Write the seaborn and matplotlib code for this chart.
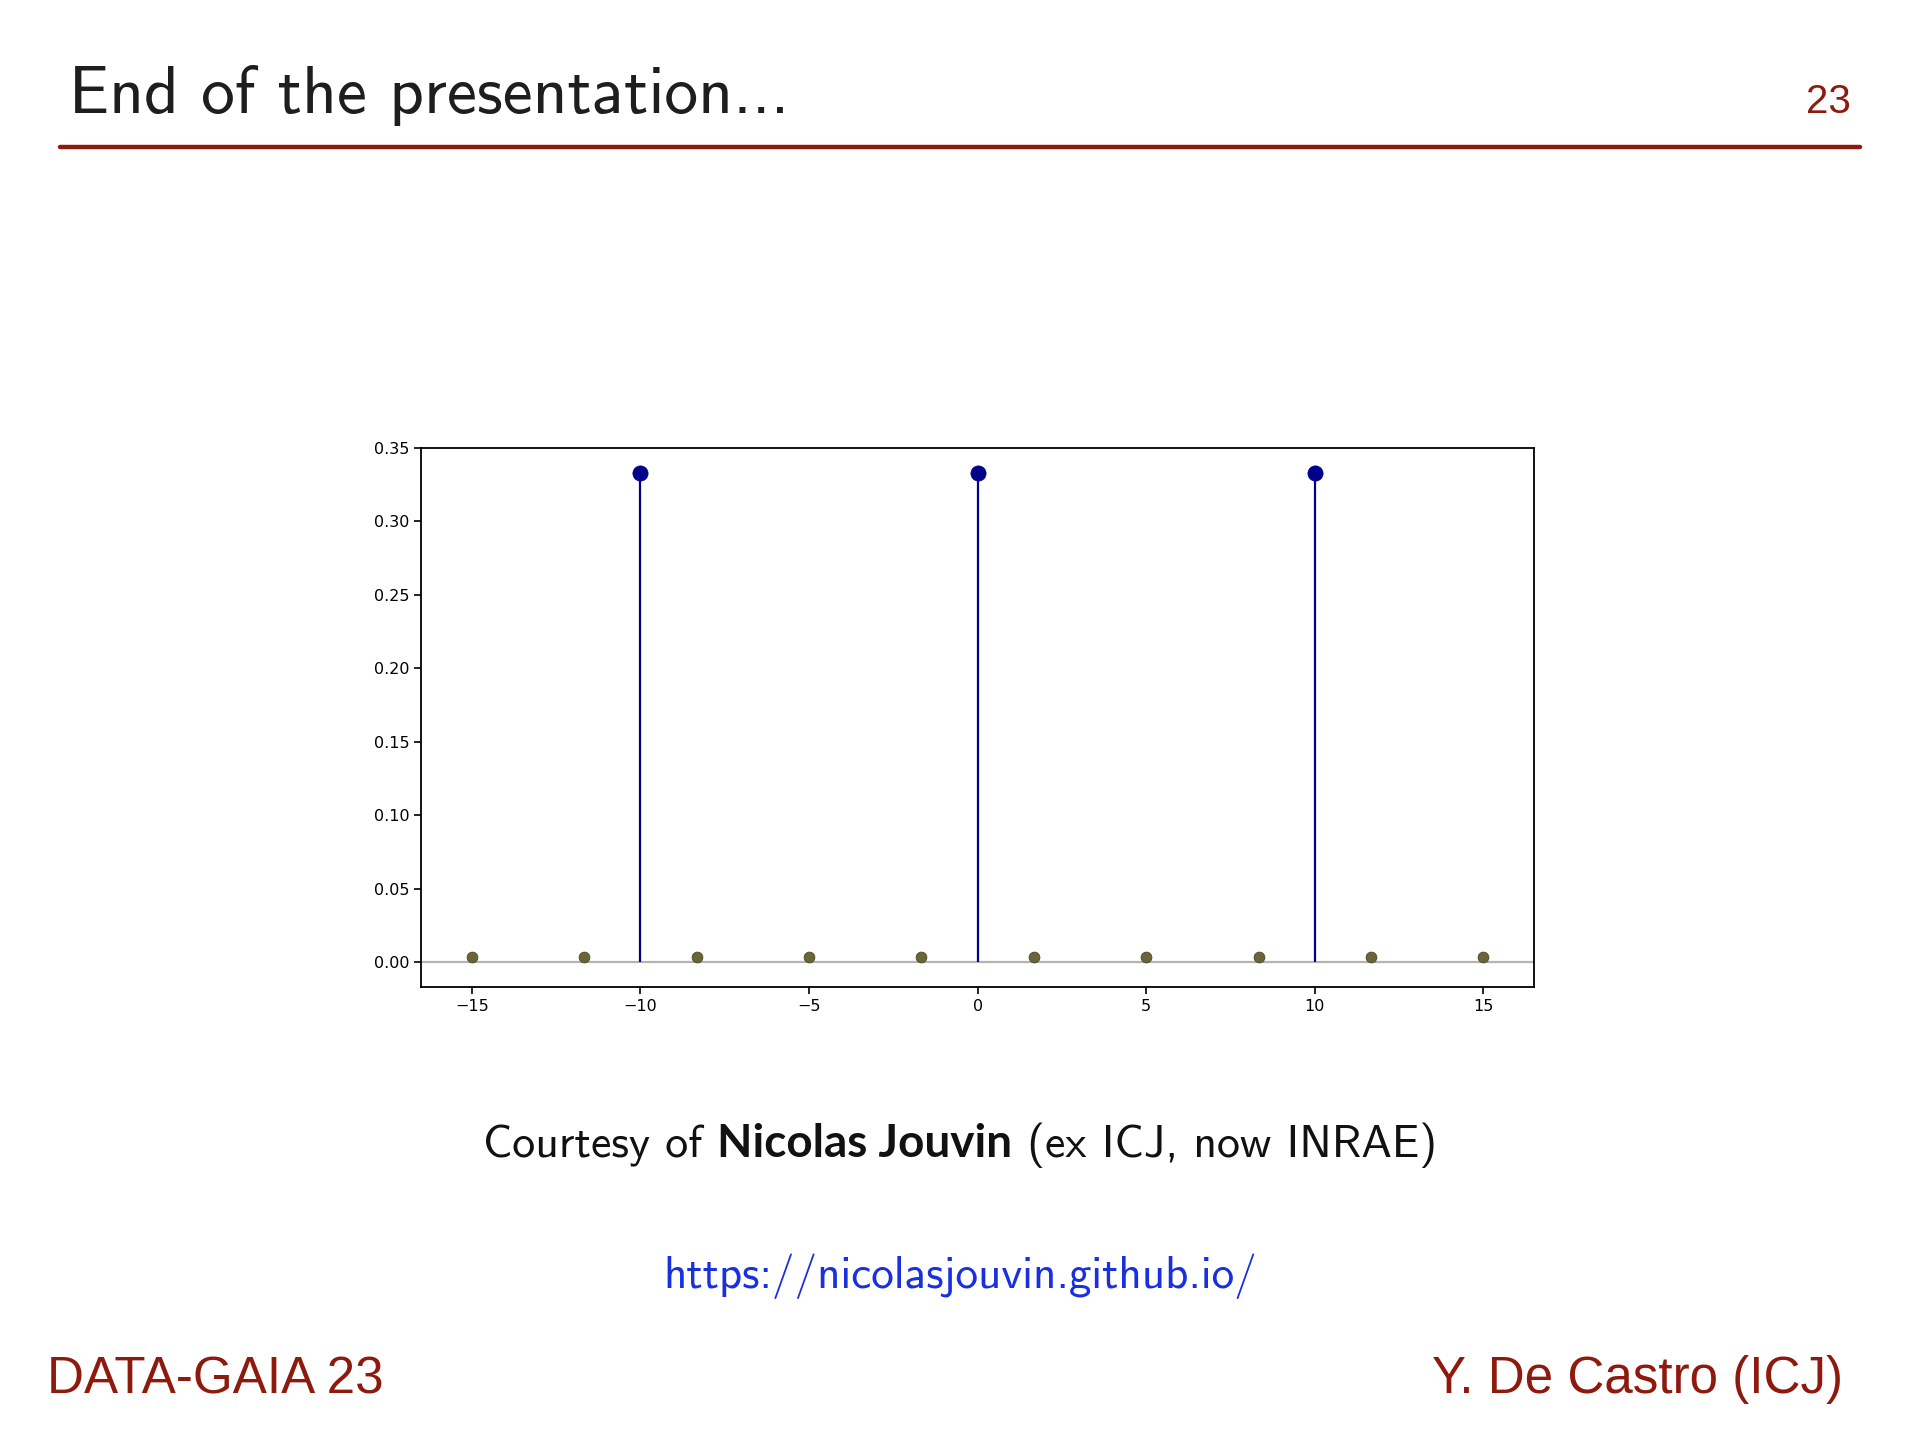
import numpy as np
import pandas as pd
import matplotlib
matplotlib.use("Agg")
import matplotlib.pyplot as plt
from matplotlib.lines import Line2D
import seaborn as sns

# ---- data ----
spike_x = [-10, 0, 10]
spike_y = [0.3333, 0.3333, 0.3333]
grid_x = [-15.0, -11.667, -8.333, -5.0, -1.667, 1.667, 5.0, 8.333, 11.667, 15.0]
grid_y = [0.004, 0.004, 0.004, 0.004, 0.004, 0.004, 0.004, 0.004, 0.004, 0.004]
x_ticks = [-15, -10, -5, 0, 5, 10, 15]
y_ticks = [0.00, 0.05, 0.10, 0.15, 0.20, 0.25, 0.30, 0.35]

title = "End of the presentation..."
page = "23"
courtesy_pre = "Courtesy of "
courtesy_bold = "Nicolas Jouvin"
courtesy_post = " (ex ICJ, now INRAE)"
url = "https://nicolasjouvin.github.io/"
footer_left = "DATA-GAIA 23"
footer_right = "Y. De Castro (ICJ)"

RED = "#8e1a0e"
NAVY = "#00008b"
OLIVE = "#6b6436"

sns.set_theme(style="white")
plt.rcParams["font.family"] = ["DejaVu Sans"]
plt.rcParams["axes.unicode_minus"] = True

fig = plt.figure(figsize=(19.2, 14.4), dpi=100)
fig.patch.set_facecolor("white")

ax = fig.add_axes([0.2193, 0.3146, 0.5797, 0.3743])
ax.set_facecolor("white")

spikes = pd.DataFrame({"x": spike_x, "y": spike_y})
grid = pd.DataFrame({"x": grid_x, "y": grid_y})

ax.axhline(0, color="#b4b4b4", lw=1.6, zorder=1)
ax.vlines(spikes["x"], 0, spikes["y"], color=NAVY, lw=1.6, zorder=2)
sns.scatterplot(data=spikes, x="x", y="y", ax=ax, color=NAVY, s=120,
                edgecolor=NAVY, linewidth=0.5, zorder=3)
sns.scatterplot(data=grid, x="x", y="y", ax=ax, color=OLIVE, s=60,
                edgecolor="#4a4526", linewidth=0.6, zorder=3)

ax.set_xlim(-16.5, 16.5)
ax.set_ylim(-0.0167, 0.35)
ax.set_xticks(x_ticks)
ax.set_yticks(y_ticks)
ax.set_yticklabels([f"{v:.2f}" for v in y_ticks])
ax.set_xlabel("")
ax.set_ylabel("")
ax.tick_params(axis="both", which="major", labelsize=11.5, length=5, width=1.2,
               color="black", labelcolor="black", bottom=True, left=True)
for sp in ax.spines.values():
    sp.set_color("black")
    sp.set_linewidth(1.3)
    sp.set_visible(True)

# ---- slide decorations ----
fig.text(0.036, 0.9215, title, fontfamily=["cmss10", "DejaVu Sans"], fontsize=48.5,
         color="#1e1e1e", ha="left", va="baseline")
fig.text(0.964, 0.9215, page, fontfamily=["Liberation Sans"], fontsize=29,
         color=RED, ha="right", va="baseline")
fig.add_artist(Line2D([0.031, 0.969], [0.898, 0.898], color=RED, lw=3.2,
                      transform=fig.transFigure))

# courtesy line, centred, composed of pieces
renderer = fig.canvas.get_renderer()
ybase = 0.1965
fs = 33
t1 = fig.text(0, ybase, courtesy_pre, fontfamily=["cmss10"], fontsize=fs,
              color="#111111", va="baseline")
t2 = fig.text(0, ybase, courtesy_bold, fontfamily=["Lato"], fontweight="bold",
              fontsize=fs, color="#111111", va="baseline")
t3 = fig.text(0, ybase, courtesy_post, fontfamily=["cmss10"], fontsize=fs,
              color="#111111", va="baseline")
W = fig.bbox.width
w1 = t1.get_window_extent(renderer).width / W
w2 = t2.get_window_extent(renderer).width / W
w3 = t3.get_window_extent(renderer).width / W
total = w1 + w2 + w3
x0 = 0.5 - total / 2
t1.set_x(x0)
t2.set_x(x0 + w1)
t3.set_x(x0 + w1 + w2)

fig.text(0.5, 0.1055, url, fontfamily=["cmss10"], fontsize=32.5,
         color="#1a30e0", ha="center", va="baseline")

fig.text(0.0245, 0.0326, footer_left, fontfamily=["Liberation Sans"], fontsize=36.8,
         color=RED, ha="left", va="baseline")
fig.text(0.96, 0.0326, footer_right, fontfamily=["Liberation Sans"], fontsize=36.8,
         color=RED, ha="right", va="baseline")

fig.savefig("out.png", dpi=100, facecolor="white")
